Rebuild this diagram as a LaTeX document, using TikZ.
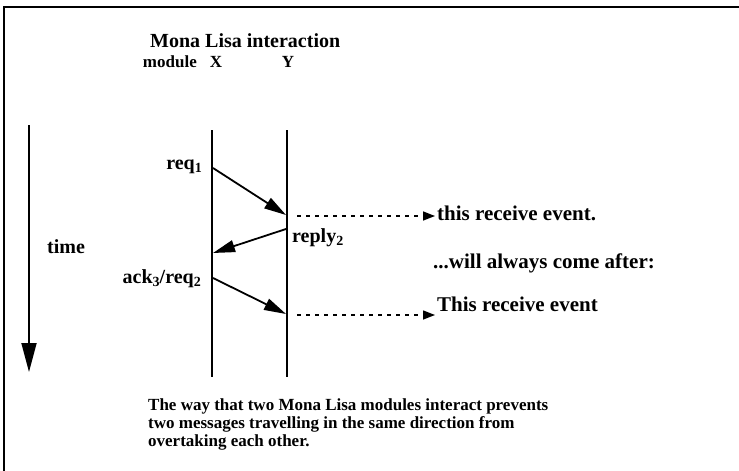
\documentclass[tikz,border=0pt]{standalone}
\usepackage{fontspec}
\setmainfont{Liberation Serif}
\usetikzlibrary{arrows.meta}
\newcommand{\lowidx}[1]{\raisebox{-0.35ex}{\fontsize{14}{14}\selectfont #1}}
\begin{document}
\begin{tikzpicture}[x=1pt,y=-1pt,
  lbl/.style={font=\fontsize{20}{22}\selectfont\bfseries, inner sep=0pt},
  note/.style={font=\fontsize{21}{23}\selectfont\bfseries, inner sep=0pt},
  life/.style={line width=1.8pt},
  msg/.style={line width=1.8pt, -{Triangle[length=22pt,width=12pt]}},
  order/.style={line width=1.4pt, dash pattern=on 4pt off 5pt, shorten >=2pt, -{Triangle[length=12pt,width=9pt]}},
  tarrow/.style={line width=1.8pt, -{Triangle[length=29pt,width=15pt]}}]
\useasboundingbox (0,0) rectangle (739,471);
\fill[white] (0,0) rectangle (739,471);

% open frame: top and left edges only
\draw[line width=2.5pt] (4,471) -- (4,7) -- (739,7);

% headings
\node[lbl, anchor=base west] (title) at (150,47) {Mona Lisa interaction};
\node[lbl, font=\fontsize{17}{19}\selectfont\bfseries, anchor=base east] (module) at (197,67) {module};
\node[lbl, font=\fontsize{17}{19}\selectfont\bfseries, anchor=base] (xname) at (216,67) {X};
\node[lbl, font=\fontsize{17}{19}\selectfont\bfseries, anchor=base] (yname) at (288,67) {Y};

% lifelines
\coordinate (xtop) at (212,130);
\coordinate (xbot) at (212,377);
\coordinate (ytop) at (287,130);
\coordinate (ybot) at (287,377);
\draw[life] (xtop) -- (xbot);
\draw[life] (ytop) -- (ybot);

% time axis
\coordinate (ttop) at (29,125);
\coordinate (tbot) at (29,372);
\draw[tarrow] (ttop) -- (tbot);
\node[lbl] (time) at (66,247) {time};

% messages between X and Y
\coordinate (m1s) at (213,168);
\coordinate (m1e) at (286,215);
\coordinate (m2s) at (286,229);
\coordinate (m2e) at (213,253);
\coordinate (m3s) at (213,278);
\coordinate (m3e) at (286,314);
\draw[msg] (m1s) -- (m1e);
\draw[msg] (m2s) -- (m2e);
\draw[msg] (m3s) -- (m3e);

\node[lbl, anchor=base east] (req) at (202,169) {req\lowidx{1}};
\node[lbl, anchor=base west] (reply) at (292,242) {reply\lowidx{2}};
\node[lbl, anchor=base east] (ackreq) at (201,283) {ack\lowidx{3}/req\lowidx{2}};

% ordering annotations
\node[note, anchor=base west] (ev1) at (437,220) {this receive event.};
\node[note, anchor=base west] (after) at (433,268) {...will always come after:};
\node[note, anchor=base west] (ev2) at (437,311) {This receive event};
\coordinate (d1s) at (297,216);
\coordinate (d2s) at (297,315);
\draw[order] (d1s) -- (ev1.west |- d1s);
\draw[order] (d2s) -- (ev2.west |- d2s);

% caption
\node[lbl, anchor=north west, align=left, font=\fontsize{17}{18}\selectfont\bfseries] (caption) at (148,398)
  {The way that two Mona Lisa modules interact prevents\\two messages travelling in the same direction from\\overtaking each other.};
\end{tikzpicture}
\end{document}
